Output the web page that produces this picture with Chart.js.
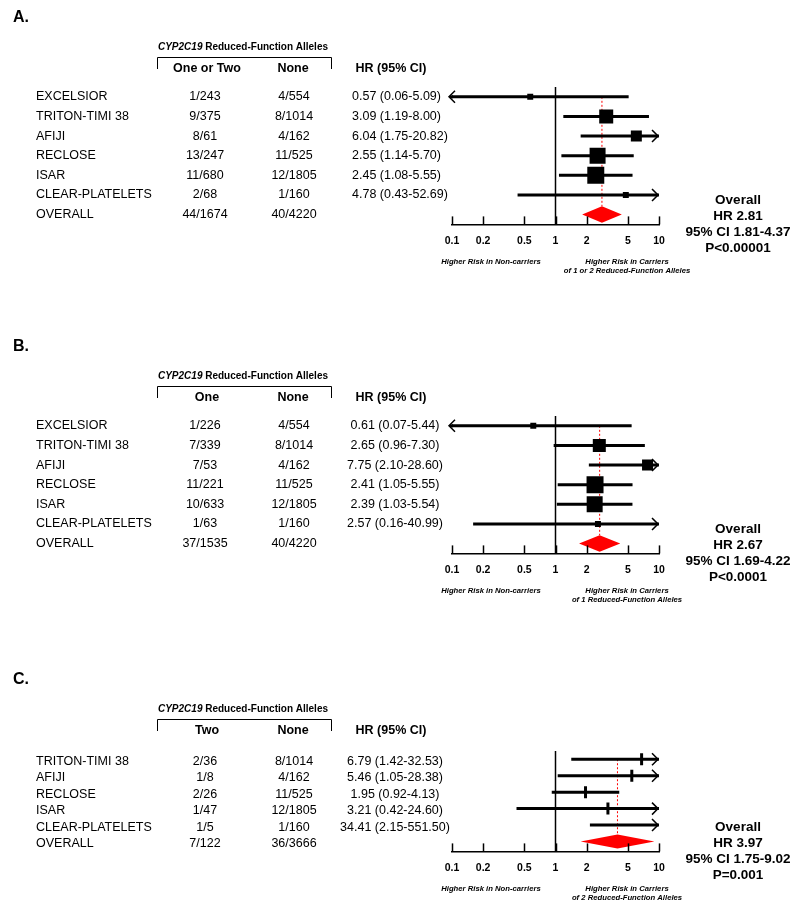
<!DOCTYPE html>
<html>
<head>
<meta charset="utf-8">
<script src="https://cdn.jsdelivr.net/npm/chart.js@4.4.1/dist/chart.umd.min.js"></script>
<style>
  html, body { margin: 0; padding: 0; background: #fff; }
  #wrap { position: relative; width: 800px; height: 908px; }
  canvas { position: absolute; left: 0; }
</style>
</head>
<body>
<div id="wrap">
  <canvas id="panelA" width="800" height="329" style="top:0px;width:800px;height:329px"></canvas>
  <canvas id="panelB" width="800" height="333" style="top:329px;width:800px;height:333px"></canvas>
  <canvas id="panelC" width="800" height="246" style="top:662px;width:800px;height:246px"></canvas>
</div>
<script>
// ---- data ----
const studiesAB = ["EXCELSIOR", "TRITON-TIMI 38", "AFIJI", "RECLOSE", "ISAR", "CLEAR-PLATELETS"];
const studiesC = ["TRITON-TIMI 38", "AFIJI", "RECLOSE", "ISAR", "CLEAR-PLATELETS"];

// A: one or two reduced-function alleles vs none
const carriersA = ["1/243", "9/375", "8/61", "13/247", "11/680", "2/68"];
const noneA = ["4/554", "8/1014", "4/162", "11/525", "12/1805", "1/160"];
const hrA = [0.57, 3.09, 6.04, 2.55, 2.45, 4.78];
const loA = [0.06, 1.19, 1.75, 1.14, 1.08, 0.43];
const hiA = [5.09, 8.00, 20.82, 5.70, 5.55, 52.69];
const weightA = [3.7, 20.4, 12.6, 26.6, 30, 3.7];
const totalsA = ["44/1674", "40/4220"];
const overallA = [2.81, 1.81, 4.37];
const pA = "P<0.00001";

// B: one allele vs none
const carriersB = ["1/226", "7/339", "7/53", "11/221", "10/633", "1/63"];
const noneB = ["4/554", "8/1014", "4/162", "11/525", "12/1805", "1/160"];
const hrB = [0.61, 2.65, 7.75, 2.41, 2.39, 2.57];
const loB = [0.07, 0.96, 2.10, 1.05, 1.03, 0.16];
const hiB = [5.44, 7.30, 28.60, 5.55, 5.54, 40.99];
const weightB = [3.7, 17.6, 12.6, 30, 26.6, 3.7];
const totalsB = ["37/1535", "40/4220"];
const overallB = [2.67, 1.69, 4.22];
const pB = "P<0.0001";

// C: two alleles vs none
const carriersC = ["2/36", "1/8", "2/26", "1/47", "1/5"];
const noneC = ["8/1014", "4/162", "11/525", "12/1805", "1/160"];
const hrC = [6.79, 5.46, 1.95, 3.21, 34.41];
const loC = [1.42, 1.05, 0.92, 0.42, 2.15];
const hiC = [32.53, 28.38, 4.13, 24.60, 551.50];
const totalsC = ["7/122", "36/3666"];
const overallC = [3.97, 1.75, 9.02];
const pC = "P=0.001";

const tickValues = [0.1, 0.2, 0.5, 1, 2, 5, 10];

// ---- drawing ----
const FONT = "'Liberation Sans', Arial, Helvetica, sans-serif";
const DIAMOND_HALF = 0.42;

const fmt = (v) => v.toFixed(2);

function forestText(p) {
  return {
    id: "forestText",
    afterDraw(chart) {
      const { ctx, chartArea: area, scales: { x, y } } = chart;
      const n = p.studies.length;
      ctx.save();
      ctx.fillStyle = "#000";
      ctx.strokeStyle = "#000";

      // panel letter
      ctx.font = "bold 16px " + FONT;
      ctx.textBaseline = "middle";
      ctx.textAlign = "left";
      ctx.fillText(p.letter, 13, 18);

      // header with italic gene name
      const part1 = "CYP2C19";
      const part2 = " Reduced-Function Alleles";
      ctx.font = "italic bold 10px " + FONT;
      const w1 = ctx.measureText(part1).width;
      ctx.font = "bold 10px " + FONT;
      const w2 = ctx.measureText(part2).width;
      let hx = 243 - (w1 + w2) / 2;
      ctx.font = "italic bold 10px " + FONT;
      ctx.fillText(part1, hx, 47);
      ctx.font = "bold 10px " + FONT;
      ctx.fillText(part2, hx + w1, 47);

      // bracket
      ctx.lineWidth = 1;
      ctx.beginPath();
      ctx.moveTo(157.5, 69);
      ctx.lineTo(157.5, 57.5);
      ctx.lineTo(331.5, 57.5);
      ctx.lineTo(331.5, 69);
      ctx.stroke();

      ctx.font = "bold 12.5px " + FONT;
      ctx.textAlign = "center";
      ctx.fillText(p.colHead, 207, 69);
      ctx.fillText("None", 293, 69);
      ctx.fillText("HR (95% CI)", 391, 69);

      // table rows
      ctx.font = "12.5px " + FONT;
      const rowY = (i) => y.getPixelForValue(i) + p.textShift;
      p.studies.forEach((s, i) => {
        const ry = rowY(i);
        ctx.textAlign = "left";
        ctx.fillText(s, 36, ry);
        ctx.textAlign = "center";
        ctx.fillText(p.carriers[i], 205, ry);
        ctx.fillText(p.none[i], 294, ry);
        const t = fmt(p.hr[i]) + " (" + fmt(p.lo[i]) + "-" + fmt(p.hi[i]) + ")";
        if (p.hrAlign === "left") {
          ctx.textAlign = "left";
          ctx.fillText(t, 352, ry);
        } else {
          ctx.textAlign = "center";
          ctx.fillText(t, 395, ry);
        }
      });
      const oy = rowY(n);
      ctx.textAlign = "left";
      ctx.fillText("OVERALL", 36, oy);
      ctx.textAlign = "center";
      ctx.fillText(p.totals[0], 205, oy);
      ctx.fillText(p.totals[1], 294, oy);

      // upward tick marks on the axis
      ctx.lineWidth = 1.5;
      tickValues.forEach((v) => {
        const tx = Math.round(x.getPixelForValue(v)) + 0.5;
        ctx.beginPath();
        ctx.moveTo(tx, area.bottom);
        ctx.lineTo(tx, area.bottom - 8);
        ctx.stroke();
      });

      // arrows where the CI runs off the scale
      ctx.lineWidth = 1.5;
      p.lo.forEach((lo, i) => {
        const ry = y.getPixelForValue(i);
        if (p.hi[i] > x.max) {
          const tip = area.right - 1;
          ctx.beginPath();
          ctx.moveTo(tip - 6, ry - 6);
          ctx.lineTo(tip, ry);
          ctx.lineTo(tip - 6, ry + 6);
          ctx.stroke();
        }
        if (lo < x.min) {
          const tip = area.left - 3;
          ctx.beginPath();
          ctx.moveTo(tip + 6, ry - 6);
          ctx.lineTo(tip, ry);
          ctx.lineTo(tip + 6, ry + 6);
          ctx.stroke();
          ctx.lineWidth = 3;
          ctx.beginPath();
          ctx.moveTo(tip + 1, ry);
          ctx.lineTo(area.left + 1, ry);
          ctx.stroke();
          ctx.lineWidth = 1.5;
        }
      });

      // direction labels
      ctx.font = "italic bold 7.7px " + FONT;
      ctx.textAlign = "center";
      ctx.fillText("Higher Risk in Non-carriers", 491, area.bottom + 37);
      ctx.fillText("Higher Risk in Carriers", 627, area.bottom + 37);
      ctx.fillText(p.legend2, 627, area.bottom + 46.5);

      // overall summary
      ctx.font = "bold 13.5px " + FONT;
      const sy = area.bottom - 24;
      ctx.fillText("Overall", 738, sy);
      ctx.fillText("HR " + fmt(p.overall[0]), 738, sy + 16);
      ctx.fillText("95% CI " + fmt(p.overall[1]) + "-" + fmt(p.overall[2]), 738, sy + 32);
      ctx.fillText(p.p, 738, sy + 48);
      ctx.restore();
    },
  };
}

function buildPanel(id, p) {
  const n = p.studies.length;
  const ciData = [];
  p.lo.forEach((lo, i) => {
    ciData.push({ x: lo, y: i }, { x: p.hi[i], y: i }, { x: 1, y: null });
  });
  const [ohr, olo, ohi] = p.overall;
  const diamond = [
    { x: olo, y: n },
    { x: ohr, y: n - DIAMOND_HALF },
    { x: ohi, y: n },
    { x: ohr, y: n + DIAMOND_HALF },
    { x: olo, y: n },
  ];
  const markers = p.markerTick
    ? {
        pointStyle: "line",
        pointRotation: 90,
        pointRadius: 6,
        pointBorderWidth: 3,
        pointBorderColor: "#000",
      }
    : {
        pointStyle: "rect",
        pointRadius: p.weight.map((w) => (3.1 * Math.sqrt(w)) / 1.4142),
        pointBorderWidth: 0,
        pointBackgroundColor: "#000",
      };

  return new Chart(document.getElementById(id), {
    type: "scatter",
    data: {
      datasets: [
        Object.assign(
          { type: "scatter", data: p.hr.map((v, i) => ({ x: v, y: i })), clip: 0 },
          markers
        ),
        {
          type: "line",
          data: ciData,
          borderColor: "#000",
          borderWidth: 3,
          pointRadius: 0,
          spanGaps: false,
          clip: 0,
        },
        {
          type: "line",
          data: [{ x: 1, y: p.yMin }, { x: 1, y: p.yMax }],
          borderColor: "#000",
          borderWidth: 1.5,
          pointRadius: 0,
        },
        {
          type: "line",
          data: [{ x: ohr, y: 0 }, { x: ohr, y: n - DIAMOND_HALF }],
          borderColor: "#ff0000",
          borderWidth: 1,
          borderDash: [2, 2],
          pointRadius: 0,
        },
        {
          type: "line",
          data: diamond,
          borderColor: "#ff0000",
          borderWidth: 0,
          backgroundColor: "#ff0000",
          fill: "shape",
          pointRadius: 0,
        },
      ],
    },
    options: {
      responsive: false,
      animation: false,
      layout: {
        padding: { left: 452, right: 141, top: p.padTop, bottom: p.padBottom },
      },
      plugins: {
        legend: { display: false },
        tooltip: { enabled: false },
      },
      scales: {
        x: {
          type: "logarithmic",
          min: 0.1,
          max: 10,
          grid: { display: false, drawTicks: false },
          border: { display: true, color: "#000", width: 1.5 },
          afterBuildTicks: (scale) => {
            scale.ticks = tickValues.map((v) => ({ value: v }));
          },
          ticks: {
            color: "#000",
            padding: 10,
            autoSkip: false,
            maxRotation: 0,
            font: { family: FONT, size: 10.5, weight: "bold" },
            callback: (v) => String(v),
          },
        },
        y: {
          type: "linear",
          display: false,
          reverse: true,
          min: p.yMin,
          max: p.yMax,
        },
      },
    },
    plugins: [forestText(p)],
  });
}

window.onload = function () {
  buildPanel("panelA", {
    letter: "A.", colHead: "One or Two", legend2: "of 1 or 2 Reduced-Function Alleles",
    studies: studiesAB, carriers: carriersA, none: noneA, hr: hrA, lo: loA, hi: hiA,
    weight: weightA, totals: totalsA, overall: overallA, p: pA,
    hrAlign: "left", yMin: -0.5, yMax: 6.5, padTop: 87, padBottom: 72, textShift: 0,
  });
  buildPanel("panelB", {
    letter: "B.", colHead: "One", legend2: "of 1 Reduced-Function Alleles",
    studies: studiesAB, carriers: carriersB, none: noneB, hr: hrB, lo: loB, hi: hiB,
    weight: weightB, totals: totalsB, overall: overallB, p: pB,
    hrAlign: "center", yMin: -0.5, yMax: 6.5, padTop: 87, padBottom: 76, textShift: 0,
  });
  buildPanel("panelC", {
    letter: "C.", colHead: "Two", legend2: "of 2 Reduced-Function Alleles",
    studies: studiesC, carriers: carriersC, none: noneC, hr: hrC, lo: loC, hi: hiC,
    totals: totalsC, overall: overallC, p: pC, markerTick: true,
    hrAlign: "center", yMin: -0.5, yMax: 5.6, padTop: 89, padBottom: 24, textShift: 2,
  });
};
</script>
</body>
</html>
